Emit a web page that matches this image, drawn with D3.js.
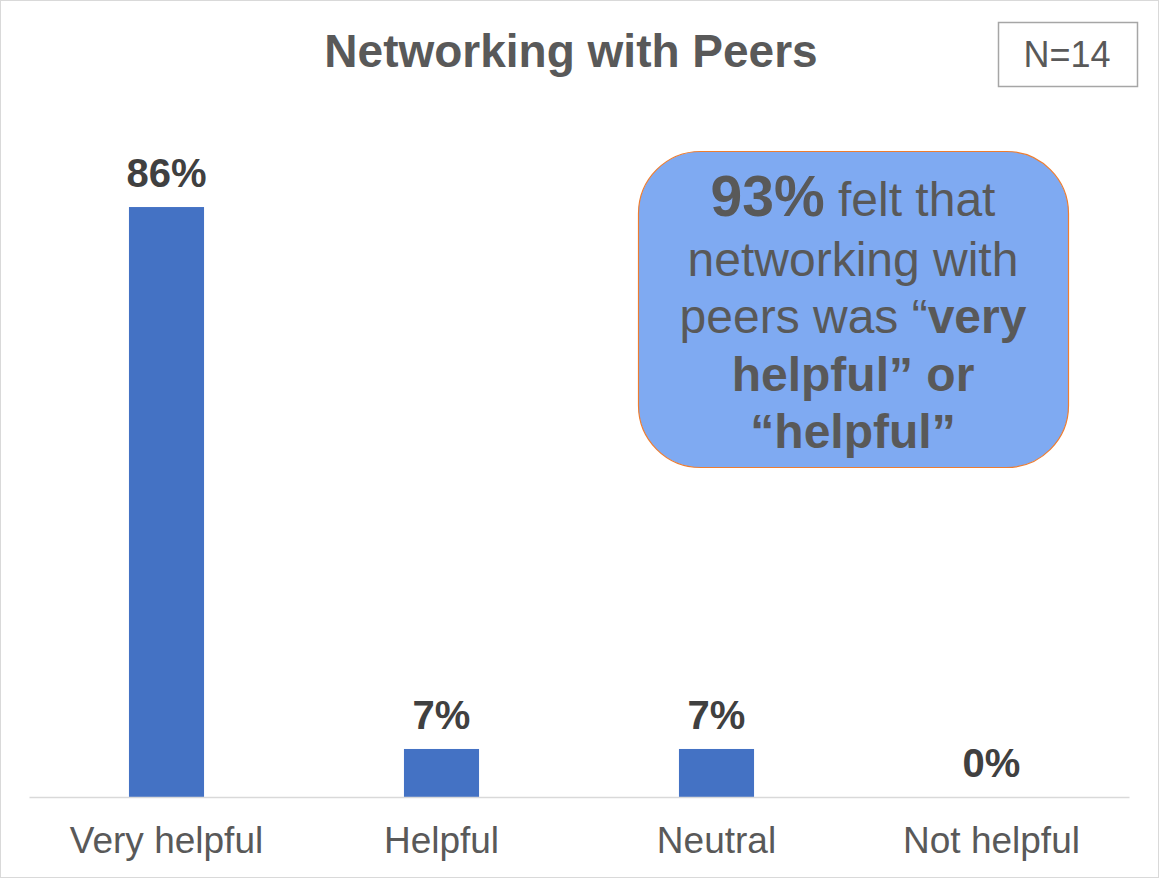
<!DOCTYPE html>
<html>
<head>
<meta charset="utf-8">
<script src="https://cdn.jsdelivr.net/npm/d3@7"></script>
<style>
  html, body { margin: 0; padding: 0; background: #fff; }
  svg { display: block; }
</style>
</head>
<body>
<script>
const categories = ["Very helpful", "Helpful", "Neutral", "Not helpful"];
const values = [86, 7, 7, 0];
const valueLabels = ["86%", "7%", "7%", "0%"];
const titleText = "Networking with Peers";
const sampleText = "N=14";

const W = 1160, H = 879;
const svg = d3.select("body").append("svg").attr("width", W).attr("height", H);
const font = "'Liberation Sans', Arial, sans-serif";

// outer border
svg.append("rect").attr("x", 0.5).attr("y", 0.5).attr("width", 1158).attr("height", 877)
  .attr("fill", "#fff").attr("stroke", "#d9d9d9").attr("stroke-width", 1);

const baseY = 797;
const x = d3.scaleBand().domain(categories).range([29, 1129]).paddingInner(0.727).paddingOuter(0.3635);
const y = d3.scaleLinear().domain([0, 100]).range([baseY, baseY - 686]);

// bars
svg.selectAll("rect.bar").data(values).enter().append("rect")
  .attr("class", "bar")
  .attr("x", (d, i) => x(categories[i]))
  .attr("y", d => y(d))
  .attr("width", x.bandwidth())
  .attr("height", d => baseY - y(d))
  .attr("fill", "#4472c4");

// axis
const axis = svg.append("g").attr("transform", `translate(0,${baseY})`)
  .call(d3.axisBottom(x).tickSize(0).tickPadding(0));
axis.select(".domain").attr("stroke", "#d9d9d9").attr("stroke-width", 1.5);
axis.selectAll(".tick text")
  .attr("y", 56).attr("dy", 0)
  .attr("font-family", font).attr("font-size", 37).attr("fill", "#595959");

// value labels
svg.selectAll("text.val").data(values).enter().append("text")
  .attr("class", "val")
  .attr("x", (d, i) => x(categories[i]) + x.bandwidth() / 2)
  .attr("y", d => y(d) - 20)
  .attr("text-anchor", "middle")
  .attr("font-family", font).attr("font-size", 40).attr("font-weight", "bold")
  .attr("fill", "#404040")
  .text((d, i) => valueLabels[i]);

// title
svg.append("text").attr("x", 571).attr("y", 67).attr("text-anchor", "middle")
  .attr("font-family", font).attr("font-size", 46).attr("font-weight", "bold")
  .attr("fill", "#595959").text(titleText);

// N box
svg.append("rect").attr("x", 998.5).attr("y", 22.5).attr("width", 139).attr("height", 64)
  .attr("fill", "#fff").attr("stroke", "#a6a6a6").attr("stroke-width", 1.5);
svg.append("text").attr("x", 1067).attr("y", 67).attr("text-anchor", "middle")
  .attr("font-family", font).attr("font-size", 36).attr("fill", "#595959").text(sampleText);

// callout
svg.append("rect").attr("x", 638.5).attr("y", 151.5).attr("width", 430).attr("height", 316)
  .attr("rx", 62).attr("ry", 62)
  .attr("fill", "#7faaf2").attr("stroke", "#ed7d31").attr("stroke-width", 1.2);

const cx = 853;
const lines = [
  [{t: "93%", b: true, s: 57}, {t: " felt that", b: false, s: 48}],
  [{t: "networking with", b: false, s: 48}],
  [{t: "peers was \u201c", b: false, s: 48}, {t: "very", b: true, s: 48}],
  [{t: "helpful\u201d or", b: true, s: 48}],
  [{t: "\u201chelpful\u201d", b: true, s: 48}]
];
const lineY = [216, 276, 333, 391, 448];
lines.forEach((segs, i) => {
  const t = svg.append("text").attr("x", cx).attr("y", lineY[i]).attr("text-anchor", "middle")
    .attr("font-family", font).attr("fill", "#595959");
  segs.forEach(s => {
    t.append("tspan").attr("font-size", s.s).attr("font-weight", s.b ? "bold" : "normal").text(s.t);
  });
});
</script>
</body>
</html>
